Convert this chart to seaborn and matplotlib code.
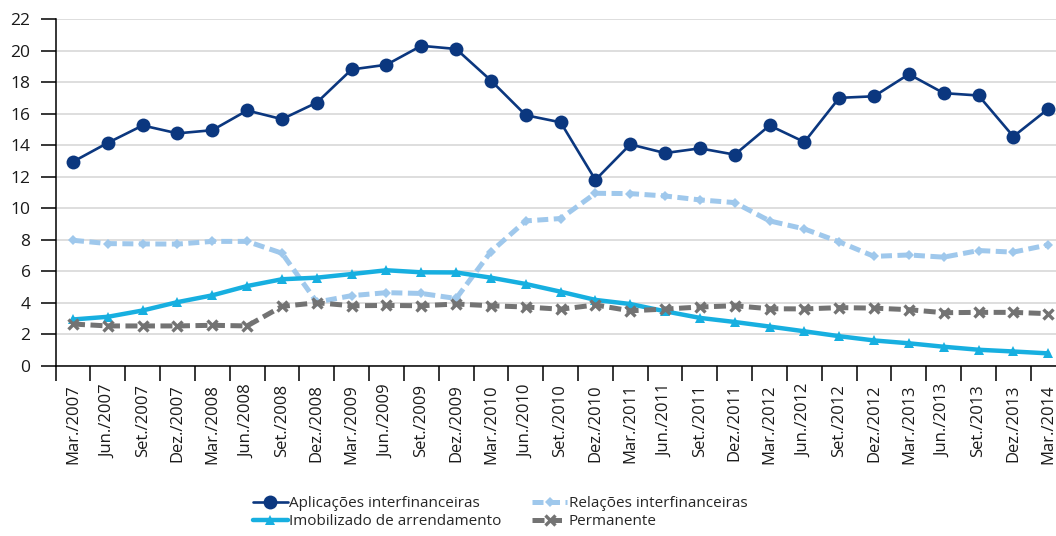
import matplotlib
matplotlib.use('Agg')
import matplotlib.pyplot as plt
import seaborn as sns
import pandas as pd
from matplotlib.ticker import FixedLocator


# Quarters shown on the x axis
periods = ['Mar./2007', 'Jun./2007', 'Set./2007', 'Dez./2007',
           'Mar./2008', 'Jun./2008', 'Set./2008', 'Dez./2008',
           'Mar./2009', 'Jun./2009', 'Set./2009', 'Dez./2009',
           'Mar./2010', 'Jun./2010', 'Set./2010', 'Dez./2010',
           'Mar./2011', 'Jun./2011', 'Set./2011', 'Dez./2011',
           'Mar./2012', 'Jun./2012', 'Set./2012', 'Dez./2012',
           'Mar./2013', 'Jun./2013', 'Set./2013', 'Dez./2013',
           'Mar./2014']

# Series values
aplicacoes = [12.95, 14.15, 15.25, 14.75, 14.95, 16.2, 15.65, 16.7,
              18.8, 19.1, 20.3, 20.1, 18.1, 15.9, 15.45, 11.8,
              14.05, 13.5, 13.8, 13.4, 15.25, 14.2, 17.0, 17.1,
              18.5, 17.3, 17.15, 14.55, 16.3]
relacoes = [7.97, 7.76, 7.74, 7.73, 7.9, 7.9, 7.15, 4.05,
            4.46, 4.65, 4.6, 4.28, 7.25, 9.2, 9.35, 10.95,
            10.93, 10.78, 10.53, 10.36, 9.2, 8.69, 7.87, 6.95,
            7.04, 6.9, 7.32, 7.22, 7.68]
imobilizado = [2.95, 3.12, 3.52, 4.05, 4.48, 5.07, 5.5, 5.6,
               5.83, 6.07, 5.94, 5.93, 5.6, 5.2, 4.71, 4.19,
               3.93, 3.47, 3.05, 2.79, 2.5, 2.2, 1.89, 1.62,
               1.44, 1.22, 1.03, 0.92, 0.8]
permanente = [2.66, 2.54, 2.54, 2.54, 2.58, 2.54, 3.78, 4.01,
              3.82, 3.84, 3.82, 3.93, 3.82, 3.74, 3.6, 3.87,
              3.5, 3.61, 3.74, 3.82, 3.63, 3.62, 3.7, 3.67,
              3.57, 3.38, 3.4, 3.4, 3.32]

series_names = ['Aplicações interfinanceiras', 'Relações interfinanceiras',
                'Imobilizado de arrendamento', 'Permanente']

df = pd.DataFrame({
    'Período': periods,
    series_names[0]: aplicacoes,
    series_names[1]: relacoes,
    series_names[2]: imobilizado,
    series_names[3]: permanente,
})

sns.set_theme(style='white')
plt.rcParams['font.family'] = ['Open Sans', 'DejaVu Sans']

fig = plt.figure(figsize=(10.56, 5.36), dpi=100)
# plot area runs past the right edge, as in the cropped original
ax = fig.add_axes([55.6 / 1056, 170 / 536, 1010 / 1056, 347 / 536])

styles = {
    series_names[0]: dict(color='#0b377f', linewidth=1.9, marker='o',
                          markersize=10, markeredgewidth=0, zorder=3),
    series_names[1]: dict(color='#9fc8ec', linewidth=3.6, linestyle=(0, (2.2, 1.1)),
                          marker='D', markersize=5.5, markeredgewidth=0, zorder=2),
    series_names[2]: dict(color='#17afe0', linewidth=3.2, marker='^',
                          markersize=6.5, markeredgewidth=0, zorder=2),
    series_names[3]: dict(color='#737373', linewidth=3.6, linestyle=(0, (2.4, 1.1)),
                          marker='x', markersize=7, markeredgewidth=2.4,
                          markeredgecolor='#737373', zorder=2),
}

for name in series_names:
    sns.lineplot(data=df, x='Período', y=name, ax=ax, sort=False,
                 legend=False, label=name, **styles[name])

# axes styling
ax.set_xlim(-0.5, len(periods) - 0.5)
ax.set_ylim(0, 22)
ax.set_yticks(range(0, 23, 2))
ax.set_xlabel('')
ax.set_ylabel('')
ax.grid(axis='y', color='#d4d4d4', linewidth=1.1)
ax.grid(axis='x', visible=False)
ax.set_axisbelow(True)

for side in ['top', 'right']:
    ax.spines[side].set_visible(False)
for side in ['left', 'bottom']:
    ax.spines[side].set_color('black')
    ax.spines[side].set_linewidth(1.1)

ax.set_xticks(range(len(periods)))
ax.set_xticklabels(periods, rotation=90, fontsize=12, color='#1a1a1a')
ax.tick_params(axis='x', which='major', length=0, pad=13)
ax.xaxis.set_minor_locator(FixedLocator([i - 0.5 for i in range(len(periods) + 1)]))
ax.tick_params(axis='x', which='minor', bottom=True, length=11, width=1.1,
               color='black', direction='out')
ax.tick_params(axis='y', which='major', left=True, length=11, width=1.1,
               color='black', direction='out', pad=7, labelsize=12.5,
               labelcolor='#1a1a1a')

# legend below the plot, two columns
handles, labels = ax.get_legend_handles_labels()
lookup = dict(zip(labels, handles))
order = [series_names[0], series_names[2], series_names[1], series_names[3]]
fig.legend([lookup[n] for n in order], order, loc='center',
           bbox_to_anchor=(0.4735, 0.043), ncol=2, frameon=False,
           fontsize=11, handlelength=2.3, handletextpad=0.1,
           columnspacing=2.0, labelspacing=0.2, borderpad=0)

plt.savefig('out.png', dpi=100)
